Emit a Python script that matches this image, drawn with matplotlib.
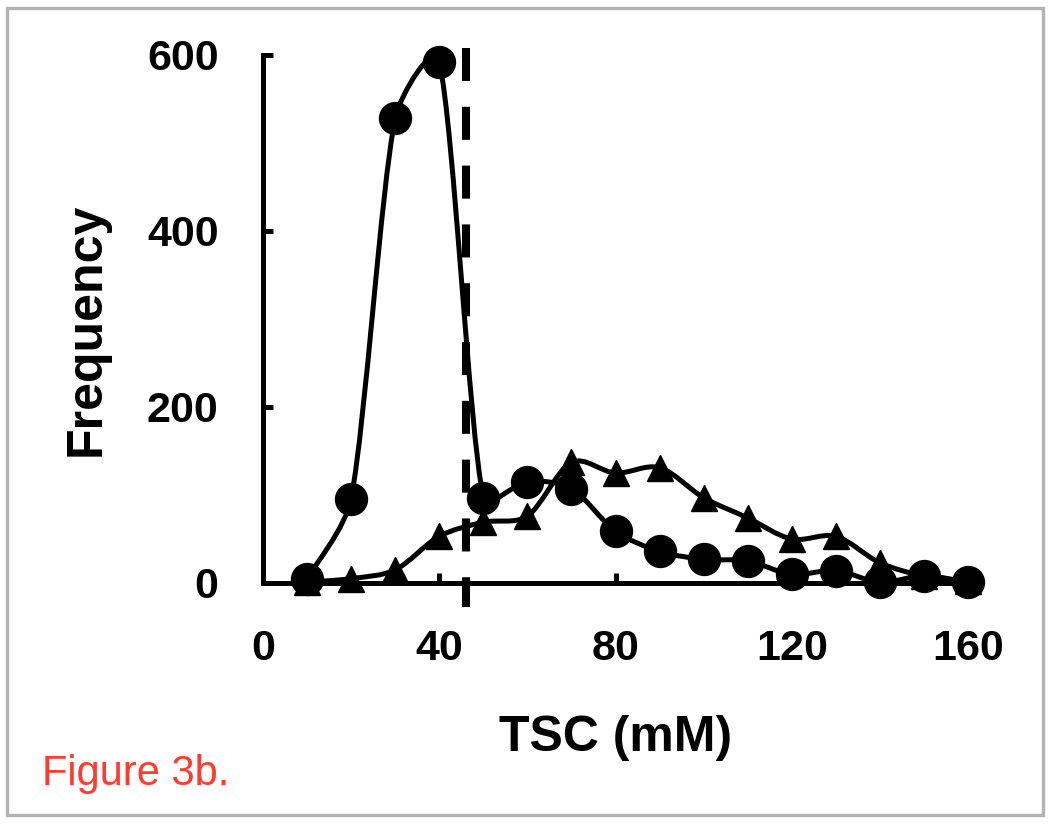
import matplotlib
matplotlib.use("Agg")
import matplotlib.pyplot as plt
import numpy as np
from matplotlib.path import Path
from matplotlib.patches import PathPatch, Rectangle

# TSC bins (mM) and frequency counts
tsc = [10, 20, 30, 40, 50, 60, 70, 80, 90, 100, 110, 120, 130, 140, 150, 160]
freq_circle = [5, 96, 528, 592, 97, 115, 107, 59, 36, 27, 25, 10, 14, 1, 8, 1]
freq_triangle = [1, 5, 15, 53, 69, 76, 137, 125, 131, 97, 74, 50, 53, 23, 8, 2]
cutoff = 46
x_ticks = [0, 40, 80, 120, 160]
y_ticks = [0, 200, 400, 600]

W, H = 1050, 824
AX_LEFT, AX_RIGHT, AX_TOP, AX_BOTTOM = 263, 968, 55, 583


def smooth_path(xs, ys, sx, sy):
    # Excel-like smoothed line: cubic Bezier through the points
    p = np.column_stack([np.asarray(xs, float) * sx, np.asarray(ys, float) * sy])
    tang = np.empty_like(p)
    tang[1:-1] = p[2:] - p[:-2]
    tang[0] = p[1] - p[0]
    tang[-1] = p[-1] - p[-2]
    verts = [p[0]]
    codes = [Path.MOVETO]
    for i in range(len(p) - 1):
        cap = np.hypot(*(p[i + 1] - p[i])) / 3
        a = tang[i] / 6
        b = tang[i + 1] / 6
        la, lb = np.hypot(*a), np.hypot(*b)
        if la > cap:
            a = a * cap / la
        if lb > cap:
            b = b * cap / lb
        verts += [p[i] + a, p[i + 1] - b, p[i + 1]]
        codes += [Path.CURVE4] * 3
    verts = np.array(verts) / [sx, sy]
    return Path(verts, codes)


def main() -> None:
    plt.rcParams["font.family"] = ["Liberation Sans", "DejaVu Sans"]
    fig = plt.figure(figsize=(W / 100, H / 100), dpi=100)
    ax = fig.add_axes([AX_LEFT / W, 1 - AX_BOTTOM / H,
                       (AX_RIGHT - AX_LEFT) / W, (AX_BOTTOM - AX_TOP) / H])
    ax.set_xlim(0, 160)
    ax.set_ylim(0, 600)

    sx = (AX_RIGHT - AX_LEFT) / 160
    sy = (AX_BOTTOM - AX_TOP) / 600
    lw = 3.6
    for series in (freq_circle, freq_triangle):
        patch = PathPatch(smooth_path(tsc, series, sx, sy), fill=False,
                          ec="black", lw=lw, clip_on=False, zorder=2)
        ax.add_patch(patch)
    ax.plot(tsc, freq_triangle, "^", ms=19, color="black", clip_on=False, zorder=3)
    ax.plot(tsc, freq_circle, "o", ms=23, color="black", clip_on=False, zorder=4)

    ax.plot([cutoff, cutoff], [608, -27], color="black", lw=5.8,
            dashes=(4.1, 3.2), solid_capstyle="butt", dash_capstyle="butt",
            clip_on=False, zorder=1)

    for side in ("top", "right"):
        ax.spines[side].set_visible(False)
    for side in ("left", "bottom"):
        ax.spines[side].set_linewidth(lw)
    ax.set_xticks(x_ticks)
    ax.set_yticks(y_ticks)
    ax.tick_params(axis="both", direction="in", length=7, width=lw,
                   labelsize=31)
    ax.tick_params(axis="x", pad=33)
    ax.tick_params(axis="y", pad=32)
    for lab in ax.get_xticklabels() + ax.get_yticklabels():
        lab.set_fontweight("bold")

    fig.text(616 / W, 1 - 738 / H, "TSC (mM)", fontsize=36, fontweight="bold",
             ha="center", va="center")
    fig.text(87 / W, 1 - 329 / H, "Frequency", fontsize=36, fontweight="bold",
             rotation=90, ha="center", va="center")
    fig.text(42 / W, 1 - 785 / H, "Figure 3b.", fontsize=30, color="#ff3b30",
             ha="left", va="baseline")

    fig.add_artist(Rectangle((6.5 / W, 1 - 815 / H), (1043 - 6.5) / W, (815 - 8) / H,
                             transform=fig.transFigure, fill=False,
                             ec="#b3b3b3", lw=2.4))
    fig.savefig("out.png", dpi=100)
    plt.close(fig)


if __name__ == "__main__":
    main()
